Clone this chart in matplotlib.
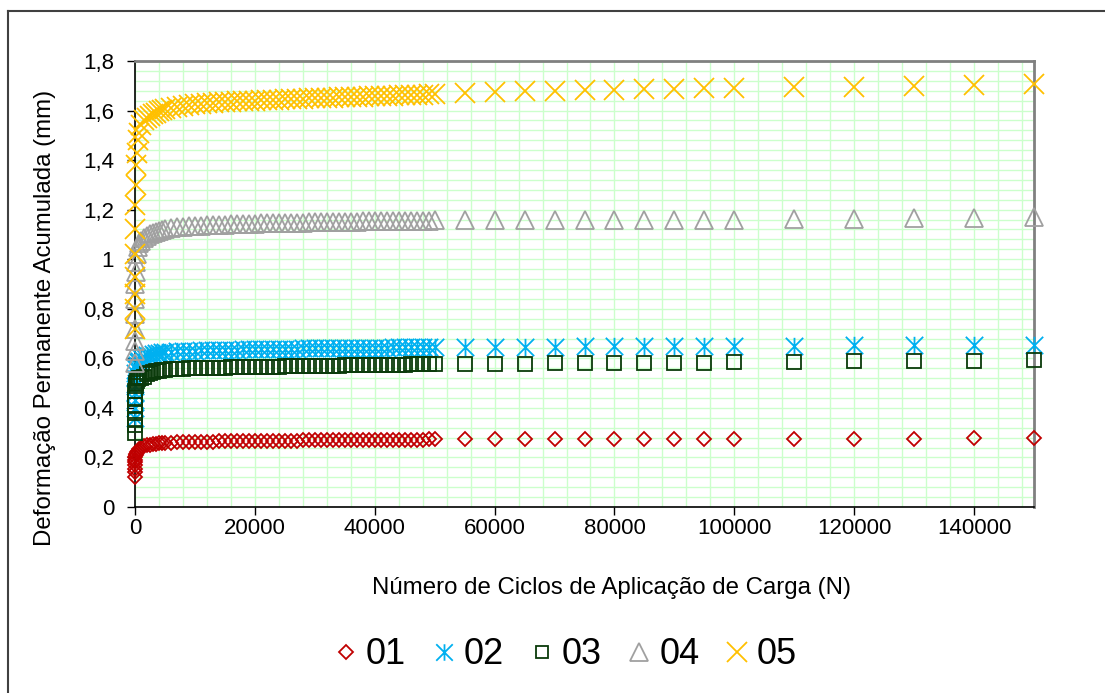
import matplotlib
matplotlib.use("Agg")
import matplotlib.pyplot as plt
from matplotlib.path import Path
from matplotlib.lines import Line2D
from matplotlib.ticker import MultipleLocator

plt.rcParams["font.family"] = ["Liberation Sans", "DejaVu Sans"]

# number of load cycles (N)
cycles = [1, 2, 3, 5, 10, 20, 50, 100, 200, 300, 500, 700, 1000,
          1500, 2000, 2500, 3000, 3500, 4000, 4500,
          5000, 6000, 7000, 8000, 9000, 10000, 11000, 12000, 13000, 14000, 15000,
          16000, 17000, 18000, 19000, 20000, 21000, 22000, 23000, 24000, 25000,
          26000, 27000, 28000, 29000, 30000, 31000, 32000, 33000, 34000, 35000,
          36000, 37000, 38000, 39000, 40000, 41000, 42000, 43000, 44000, 45000,
          46000, 47000, 48000, 49000, 50000,
          55000, 60000, 65000, 70000, 75000, 80000, 85000, 90000, 95000, 100000,
          110000, 120000, 130000, 140000, 150000]

def_01 = [0.12, 0.14, 0.155, 0.17, 0.18, 0.19, 0.20, 0.21, 0.215, 0.22, 0.228, 0.235, 0.24,
          0.245, 0.25, 0.252, 0.254, 0.256, 0.257, 0.258,
          0.259, 0.26, 0.261, 0.262, 0.262, 0.263, 0.263, 0.264, 0.264, 0.265, 0.265,
          0.265, 0.266, 0.266, 0.266, 0.267, 0.267, 0.267, 0.267, 0.268, 0.268,
          0.268, 0.268, 0.269, 0.269, 0.269, 0.269, 0.269, 0.27, 0.27, 0.27,
          0.27, 0.27, 0.271, 0.271, 0.271, 0.271, 0.271, 0.272, 0.272, 0.272,
          0.272, 0.272, 0.272, 0.273, 0.273,
          0.273, 0.273, 0.273, 0.274, 0.274, 0.274, 0.274, 0.275, 0.275, 0.275,
          0.275, 0.276, 0.276, 0.277, 0.277]

def_02 = [0.36, 0.40, 0.43, 0.46, 0.49, 0.52, 0.54, 0.555, 0.565, 0.575, 0.585, 0.59, 0.60,
          0.605, 0.612, 0.615, 0.618, 0.62, 0.622, 0.624,
          0.625, 0.627, 0.628, 0.629, 0.63, 0.631, 0.632, 0.633, 0.633, 0.634, 0.634,
          0.635, 0.635, 0.636, 0.636, 0.637, 0.637, 0.638, 0.638, 0.638, 0.639,
          0.639, 0.639, 0.64, 0.64, 0.64, 0.641, 0.641, 0.641, 0.641, 0.642,
          0.642, 0.642, 0.642, 0.643, 0.643, 0.643, 0.643, 0.644, 0.644, 0.644,
          0.644, 0.645, 0.645, 0.645, 0.645,
          0.646, 0.646, 0.647, 0.647, 0.648, 0.648, 0.649, 0.649, 0.65, 0.65,
          0.651, 0.652, 0.653, 0.654, 0.655]

def_03 = [0.30, 0.33, 0.35, 0.38, 0.41, 0.44, 0.47, 0.49, 0.50, 0.51, 0.515, 0.52, 0.522,
          0.525, 0.535, 0.54, 0.544, 0.547, 0.549, 0.551,
          0.553, 0.555, 0.556, 0.557, 0.559, 0.56, 0.561, 0.561, 0.562, 0.563, 0.563,
          0.564, 0.564, 0.565, 0.565, 0.566, 0.566, 0.567, 0.567, 0.567, 0.568,
          0.568, 0.569, 0.569, 0.569, 0.57, 0.57, 0.571, 0.571, 0.571, 0.572,
          0.572, 0.572, 0.573, 0.573, 0.574, 0.574, 0.574, 0.575, 0.575, 0.575,
          0.576, 0.576, 0.576, 0.577, 0.577,
          0.578, 0.579, 0.579, 0.58, 0.58, 0.581, 0.582, 0.582, 0.583, 0.584,
          0.586, 0.588, 0.59, 0.591, 0.593]

def_04 = [0.58, 0.63, 0.67, 0.72, 0.78, 0.84, 0.90, 0.95, 0.99, 1.02, 1.05, 1.065, 1.075,
          1.085, 1.095, 1.10, 1.106, 1.11, 1.114, 1.118,
          1.122, 1.126, 1.129, 1.131, 1.133, 1.135, 1.136, 1.137, 1.138, 1.139, 1.14,
          1.141, 1.142, 1.143, 1.143, 1.144, 1.145, 1.145, 1.146, 1.146, 1.147,
          1.147, 1.148, 1.148, 1.149, 1.149, 1.15, 1.15, 1.151, 1.151, 1.151,
          1.152, 1.152, 1.153, 1.153, 1.153, 1.154, 1.154, 1.154, 1.155, 1.155,
          1.155, 1.156, 1.156, 1.156, 1.157,
          1.157, 1.157, 1.158, 1.158, 1.158, 1.159, 1.159, 1.16, 1.16, 1.16,
          1.162, 1.164, 1.166, 1.168, 1.17]

def_05 = [0.72, 0.80, 0.86, 0.93, 1.02, 1.12, 1.22, 1.30, 1.38, 1.43, 1.48, 1.51, 1.54,
          1.56, 1.57, 1.58, 1.585, 1.59, 1.597, 1.601,
          1.605, 1.611, 1.616, 1.62, 1.623, 1.626, 1.628, 1.63, 1.632, 1.633, 1.635,
          1.636, 1.637, 1.638, 1.639, 1.64, 1.641, 1.642, 1.643, 1.644, 1.645,
          1.646, 1.647, 1.648, 1.649, 1.65, 1.651, 1.652, 1.652, 1.653, 1.654,
          1.655, 1.656, 1.656, 1.657, 1.658, 1.659, 1.66, 1.66, 1.661, 1.662,
          1.663, 1.663, 1.664, 1.665, 1.666,
          1.672, 1.674, 1.677, 1.679, 1.682, 1.684, 1.686, 1.688, 1.69, 1.691,
          1.694, 1.697, 1.700, 1.703, 1.706]

labels = ["01", "02", "03", "04", "05"]
y_ticks = [0, 0.2, 0.4, 0.6, 0.8, 1.0, 1.2, 1.4, 1.6, 1.8]
y_ticklabels = ["0", "0,2", "0,4", "0,6", "0,8", "1", "1,2", "1,4", "1,6", "1,8"]
x_ticks = [0, 20000, 40000, 60000, 80000, 100000, 120000, 140000]

# excel-like asterisk (X plus vertical bar)
star = Path([(0, -1), (0, 1), (-1, -1), (1, 1), (-1, 1), (1, -1)],
            [Path.MOVETO, Path.LINETO] * 3)

styles = [
    dict(marker="D", ms=7.0, color="#C00000"),
    dict(marker=star, ms=12.5, color="#00B0F0"),
    dict(marker="s", ms=9.5, color="#0A3A0A"),
    dict(marker="^", ms=13.5, color="#A0A0A0"),
    dict(marker="x", ms=14.5, color="#FFC000"),
]

fig = plt.figure(figsize=(11.05, 6.93), dpi=100)
ax = fig.add_axes([135 / 1105, 1 - 507 / 693, (1034 - 135) / 1105, (507 - 61) / 693])

series = [def_01, def_02, def_03, def_04, def_05]
for vals, lab, st in zip(series, labels, styles):
    ax.plot(cycles, vals, linestyle="none", marker=st["marker"], ms=st["ms"],
            mfc="none", mec=st["color"], mew=1.3, label=lab, clip_on=False, zorder=3)

ax.set_xlim(0, 150000)
ax.set_ylim(0, 1.8)
ax.set_xticks(x_ticks)
ax.set_xticklabels([str(v) for v in x_ticks])
ax.set_yticks(y_ticks)
ax.set_yticklabels(y_ticklabels)
ax.xaxis.set_minor_locator(MultipleLocator(4000))
ax.yaxis.set_minor_locator(MultipleLocator(0.04))
ax.grid(which="both", color="#CCFFCC", linewidth=1.0, zorder=0)
ax.set_axisbelow(True)
ax.tick_params(which="major", direction="out", length=6, width=1, labelsize=16)
ax.tick_params(axis="y", pad=9)
ax.tick_params(axis="x", pad=2)
ax.tick_params(which="minor", length=0)

for s in ["left", "bottom"]:
    ax.spines[s].set_color("black")
    ax.spines[s].set_linewidth(1.2)
for s in ["top", "right"]:
    ax.spines[s].set_color("#808080")
    ax.spines[s].set_linewidth(2)

fig.text(611 / 1105, 1 - 588 / 693, "Número de Ciclos de Aplicação de Carga (N)",
         ha="center", va="center", fontsize=17.3)
fig.text(45 / 1105, 1 - 318 / 693, "Deformação Permanente Acumulada (mm)",
         ha="center", va="center", rotation=90, fontsize=17.3)

handles = [Line2D([], [], linestyle="none", marker=st["marker"], ms=st["ms"] * 0.95,
                  mfc="none", mec=st["color"], mew=1.3) for st in styles]
fig.legend(handles, labels, loc="center", bbox_to_anchor=(566 / 1105, 1 - 655 / 693),
           ncol=5, frameon=False, fontsize=26, handlelength=0.6, handletextpad=0.25,
           columnspacing=0.75)

# chart border (only top and left visible in the picture)
fig.add_artist(Line2D([8 / 1105, 8 / 1105], [0, 1 - 11 / 693], color="#404040", lw=1.5))
fig.add_artist(Line2D([8 / 1105, 1], [1 - 11 / 693, 1 - 11 / 693], color="#404040", lw=1.5))

fig.savefig("out.png", dpi=100)
